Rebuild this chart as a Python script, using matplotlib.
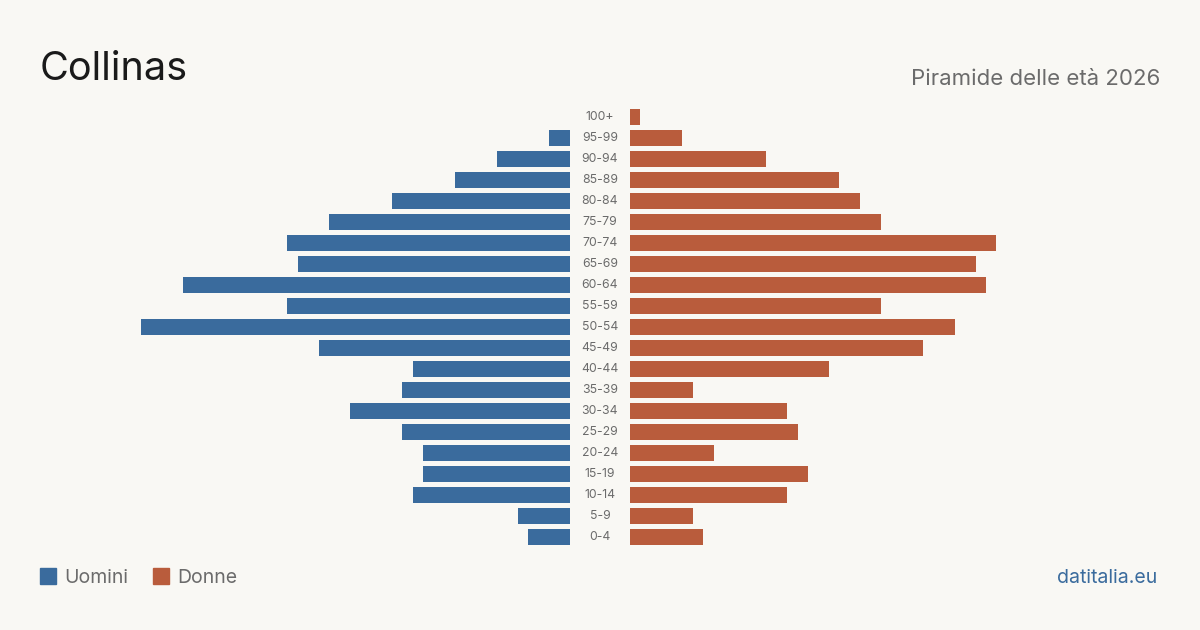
import matplotlib.pyplot as plt
from matplotlib.patches import Rectangle

plt.rcParams['font.family'] = ['Inter', 'DejaVu Sans']

# age groups, bottom to top
ages = ['0-4', '5-9', '10-14', '15-19', '20-24', '25-29', '30-34', '35-39',
        '40-44', '45-49', '50-54', '55-59', '60-64', '65-69', '70-74',
        '75-79', '80-84', '85-89', '90-94', '95-99', '100+']
uomini = [4, 5, 15, 14, 14, 16, 21, 16, 15, 24, 41, 27, 37, 26, 27,
          23, 17, 11, 7, 2, 0]
donne = [7, 6, 15, 17, 8, 16, 15, 6, 19, 28, 31, 24, 34, 33, 35,
         24, 22, 20, 13, 5, 1]

BLUE = '#3a6b9d'
ORANGE = '#b95c3c'
BG = '#f9f8f4'
GRAY = '#6b6b6b'

W, H = 1200, 630
fig = plt.figure(figsize=(12, 6.3), dpi=100, facecolor=BG)

xmax = 530 / 10.47
bottom = (H - 547.5) / H
height = 441 / H
axl = fig.add_axes([40 / W, bottom, 530 / W, height])
axr = fig.add_axes([630 / W, bottom, 530 / W, height])

y = list(range(len(ages)))
axl.barh(y, uomini, height=0.8, color=BLUE)
axr.barh(y, donne, height=0.8, color=ORANGE)
axl.set_xlim(xmax, 0)
axr.set_xlim(0, xmax)
for ax in (axl, axr):
    ax.set_ylim(-0.5, len(ages) - 0.5)
    ax.axis('off')

# age labels in the gap
for i, a in enumerate(ages):
    fig.text(600 / W, bottom + (i + 0.5) / len(ages) * height, a,
             ha='center', va='center', fontsize=8.8, color=GRAY)

fig.text(40 / W, 1 - 80 / H, 'Collinas', fontsize=28.5, color='#1a1a1a',
         ha='left', va='baseline')
fig.text(1160 / W, 1 - 85 / H, 'Piramide delle età 2026', fontsize=16,
         color=GRAY, ha='right', va='baseline')

# legend
fig.patches.append(Rectangle((40 / W, 1 - 584 / H), 16 / W, 16 / H,
                             transform=fig.transFigure, color=BLUE))
fig.text(64 / W, 1 - 583 / H, 'Uomini', fontsize=14, color=GRAY,
         ha='left', va='baseline')
fig.patches.append(Rectangle((153 / W, 1 - 584 / H), 16 / W, 16 / H,
                             transform=fig.transFigure, color=ORANGE))
fig.text(177 / W, 1 - 583 / H, 'Donne', fontsize=14, color=GRAY,
         ha='left', va='baseline')

fig.text(1157 / W, 1 - 583 / H, 'datitalia.eu', fontsize=14, color=BLUE,
         ha='right', va='baseline')

fig.savefig('out.png', dpi=100, facecolor=BG)
